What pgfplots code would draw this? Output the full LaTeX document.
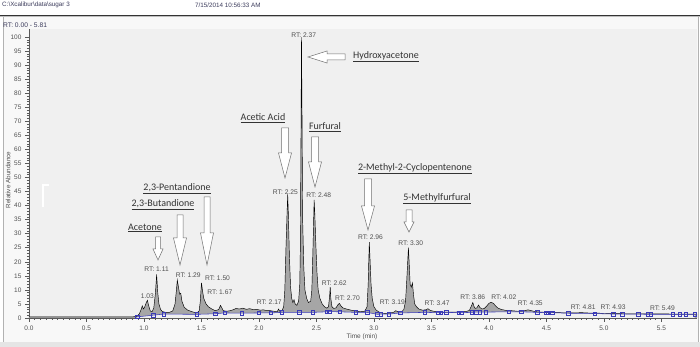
\documentclass[border=0pt]{standalone}
\usepackage{fontspec}
\setmainfont{Liberation Sans}
\newfontfamily\calib{Carlito}
\usepackage{pgfplots}
\pgfplotsset{compat=1.18}
\usetikzlibrary{calc}
\pgfdeclarelayer{bg}
\pgfsetlayers{bg,main}
\definecolor{plotbg}{HTML}{F0F0F0}
\definecolor{panelbg}{HTML}{F8F8F8}
\definecolor{peakfill}{HTML}{A6A6A6}
\definecolor{baseblue}{HTML}{3A3AB8}
\definecolor{txtgray}{HTML}{505050}
\definecolor{hdr}{HTML}{3C3C5C}
\definecolor{arrowc}{HTML}{707070}
\definecolor{cmpd}{HTML}{333333}
\tikzset{rt/.style={font=\fontsize{6.7}{7}\selectfont, text=txtgray, inner sep=0}}

\newcommand\varrow[6]{%
 \draw[arrowc, fill=white, line width=0.5pt, line join=miter]
 ({#1-#5},{347-#2}) -- ({#1+#5},{347-#2}) -- ({#1+#5},{347-#3}) -- ({#1+#6},{347-#3})
 -- (#1,{347-#4}) -- ({#1-#6},{347-#3}) -- ({#1-#5},{347-#3}) -- cycle;}

\pgfplotstableread{
t v
0.00 0.4
0.50 0.4
0.90 0.4
0.94 0.6
0.96 1.5
0.975 3
0.985 4.3
0.995 3.2
1.005 3.8
1.02 5.5
1.03 6.3
1.04 4.5
1.055 2.5
1.07 2.2
1.085 3.5
1.10 9
1.11 15.5
1.12 9
1.13 5
1.145 3
1.16 2.3
1.19 2
1.22 2
1.25 2.5
1.27 5
1.28 9
1.29 13.5
1.30 11
1.31 8.5
1.32 8.8
1.33 6
1.35 3.8
1.38 2.8
1.42 2.2
1.46 1.8
1.48 2.5
1.49 6
1.50 12.5
1.51 9.5
1.52 7
1.54 5
1.56 4
1.59 3.2
1.62 2.6
1.65 3
1.665 4.5
1.675 3.8
1.69 2.6
1.72 2.4
1.75 2.6
1.78 3
1.80 3.4
1.83 3.2
1.86 3.5
1.89 3.1
1.92 3.3
1.95 3.0
1.98 3.1
2.01 2.8
2.04 2.9
2.07 2.6
2.10 2.6
2.13 2.4
2.16 2.3
2.17 3.2
2.18 2.4
2.20 2.6
2.215 4
2.225 10
2.235 25
2.245 38
2.25 44
2.255 38
2.265 22
2.275 11
2.285 7
2.295 5.5
2.305 6.5
2.315 5
2.33 4.5
2.345 6
2.355 12
2.36 25
2.365 60
2.37 100
2.375 70
2.38 35
2.39 18
2.40 10
2.415 7
2.43 5.5
2.45 6
2.46 10
2.47 25
2.48 42
2.485 38
2.495 26
2.505 16
2.515 10
2.53 7
2.55 5
2.57 4
2.59 3.5
2.605 4
2.615 8
2.62 11
2.625 7
2.635 4
2.65 3.4
2.67 3.6
2.685 4.6
2.70 5.2
2.715 4.2
2.73 3.6
2.76 3.2
2.80 2.8
2.84 2.5
2.88 2.3
2.92 2.4
2.94 4
2.95 12
2.955 20
2.96 27
2.965 22
2.975 12
2.985 7
3.00 4
3.02 2.8
3.05 2
3.08 1.7
3.11 1.6
3.14 1.8
3.17 2
3.19 2.6
3.21 2.2
3.24 2.2
3.26 3
3.275 6
3.285 13
3.295 21
3.30 25
3.305 21
3.315 12
3.325 11
3.335 12.5
3.345 8
3.355 5
3.37 4
3.39 3.2
3.42 2.8
3.45 2.9
3.47 3.3
3.49 2.7
3.52 2.4
3.56 2.2
3.60 2.1
3.65 2.1
3.70 2.1
3.75 2.2
3.80 2.3
3.83 2.7
3.85 4.5
3.86 5.5
3.87 4.2
3.88 3.4
3.895 3.6
3.91 4.6
3.92 3.8
3.94 3.2
3.96 3.4
3.98 4.2
4.00 5.2
4.02 5.6
4.04 5.2
4.06 4.2
4.08 3.5
4.11 3
4.15 2.7
4.20 2.6
4.25 2.4
4.30 2.5
4.34 2.9
4.36 2.7
4.40 2.3
4.45 2.1
4.50 2.0
4.60 1.9
4.70 1.8
4.81 1.9
4.90 1.7
4.93 1.8
5.00 1.6
5.20 1.5
5.49 1.5
5.60 1.4
5.81 1.4
}\trace

\pgfplotstableread{
t v
0.94 0.4
1.08 1.0
1.17 1.4
1.46 1.3
1.62 1.5
1.70 1.8
1.85 1.7
2.00 1.8
2.10 1.8
2.20 2.0
2.35 2.0
2.47 2.0
2.59 2.2
2.61 2.3
2.70 2.2
2.84 2.0
2.94 2.0
3.03 1.3
3.06 1.4
3.13 1.4
3.23 1.8
3.44 2.0
3.56 1.9
3.58 1.9
3.63 2.0
3.74 1.9
3.76 1.9
3.85 2.0
3.89 2.1
3.92 2.1
3.97 2.1
4.17 2.2
4.28 2.2
4.42 2.0
4.50 1.9
4.51 1.9
4.55 1.9
4.69 1.7
4.92 1.6
5.08 1.4
5.16 1.4
5.30 1.4
5.38 1.3
5.41 1.3
5.60 1.3
5.66 1.3
5.71 1.3
5.79 1.3
}\base

\begin{document}
\begin{tikzpicture}[x=1pt,y=1pt]
\begin{axis}[scale only axis,
  width=668pt, height=289pt,
  xmin=0, xmax=5.81, ymin=0, ymax=102.85,
  axis background/.style={fill=plotbg},
  axis x line*=bottom, axis y line*=left,
  axis line style={-, draw=gray!70!black, line width=0.6pt},
  xtick={0,0.5,1,1.5,2,2.5,3,3.5,4,4.5,5,5.5},
  ytick={0,5,...,100},
  minor x tick num=9, minor y tick num=4,
  tick align=outside, major tick length=4pt, minor tick length=2pt,
  tick style={gray!70!black, line width=0.5pt},
  xticklabel style={/pgf/number format/fixed, /pgf/number format/fixed zerofill, /pgf/number format/precision=1},
  /pgf/number format/assume math mode=true,
  ticklabel style={font=\fontsize{6.5}{7}\selectfont, text=txtgray},
  clip=false]
\addplot[draw=none, fill=peakfill] table[x=t,y=v]{\trace} \closedcycle;
\addplot[draw=none, fill=plotbg] table[x=t,y=v]{\base} \closedcycle;
\addplot[black, line width=0.45pt] table[x=t,y=v]{\trace};
\addplot[baseblue, line width=0.55pt, mark=square, mark size=1.7pt, mark options={fill=plotbg, line width=0.45pt}] table[x=t,y=v]{\base};

\node[rt] at (axis cs:1.03,7.8) {1.03};
\node[rt] at (axis cs:1.11,17.4) {RT: 1.11};
\node[rt] at (axis cs:1.385,15.3) {RT: 1.29};
\node[rt] at (axis cs:1.64,14.2) {RT: 1.50};
\node[rt] at (axis cs:1.66,9.3) {RT: 1.67};
\node[rt] at (axis cs:2.09,5.7) {RT: 2.17};
\node[rt] at (axis cs:2.23,44.8) {RT: 2.25};
\node[rt] at (axis cs:2.39,100.8) {RT: 2.37};
\node[rt] at (axis cs:2.52,43.8) {RT: 2.48};
\node[rt] at (axis cs:2.655,12.5) {RT: 2.62};
\node[rt] at (axis cs:2.77,7.1) {RT: 2.70};
\node[rt] at (axis cs:2.97,28.8) {RT: 2.96};
\node[rt] at (axis cs:3.16,5.7) {RT: 3.19};
\node[rt] at (axis cs:3.32,26.7) {RT: 3.30};
\node[rt] at (axis cs:3.55,5.3) {RT: 3.47};
\node[rt] at (axis cs:3.86,7.5) {RT: 3.86};
\node[rt] at (axis cs:4.13,7.5) {RT: 4.02};
\node[rt] at (axis cs:4.36,5.3) {RT: 4.35};
\node[rt] at (axis cs:4.82,3.9) {RT: 4.81};
\node[rt] at (axis cs:5.08,3.9) {RT: 4.93};
\node[rt] at (axis cs:5.51,3.6) {RT: 5.49};
\coordinate (ax0) at (rel axis cs:0,0);
\end{axis}

\begin{scope}[shift={($(ax0)-(29pt,29pt)$)}]
\begin{pgfonlayer}{bg}
\fill[white] (0,0) rectangle (700,347);
\fill[panelbg] (3,5) rectangle (698,331);
\fill[gray!20] (0,0) rectangle (700,5);
\draw[gray!60, line width=0.6pt] (3,5) -- (3,331);
\draw[gray!60, line width=0.6pt] (698,5) -- (698,331);
\draw[gray!40!black, line width=0.8pt] (0,331.5) -- (700,331.5);
\draw[gray!50, line width=0.5pt] (0,330.3) -- (700,330.3);
\end{pgfonlayer}
\draw[white, line width=1.2pt] (43,140) -- (43,162) -- (49,162);
\node[anchor=west, inner sep=0, text=hdr, font=\fontsize{6.3}{7}\selectfont] at (2,342) {C:\textbackslash Xcalibur\textbackslash data\textbackslash sugar 3};
\node[anchor=west, inner sep=0, text=hdr, font=\fontsize{6.3}{7}\selectfont] at (195,342) {7/15/2014 10:56:33 AM};
\node[anchor=west, inner sep=0, text=hdr, font=\fontsize{6.7}{7}\selectfont] at (3,322) {RT: 0.00 - 5.81};

\node[rotate=90, inner sep=0, text=txtgray, font=\fontsize{6.3}{7}\selectfont] at (8,167) {Relative Abundance};
\node[inner sep=0, text=txtgray, font=\fontsize{6.5}{7}\selectfont] at (362,10) {Time (min)};

\varrow{158}{237}{249}{260}{2.5}{5}
\varrow{180}{215}{238}{265}{3}{6.5}
\varrow{207}{197}{233}{265}{3}{6.5}
\varrow{285}{128}{153}{178}{3.5}{6.5}
\varrow{315}{137}{162}{187}{3.5}{6.5}
\varrow{368}{179}{206}{230}{3.5}{6.5}
\varrow{409}{210}{222}{232}{3}{5}
\draw[arrowc, fill=white, line width=0.5pt] (345,293) -- (327,293) -- (327,296) -- (308,290) -- (327,284) -- (327,287) -- (345,287) -- cycle;

\begin{scope}[every node/.style={inner sep=0, text=cmpd, font=\calib\fontsize{10}{11}\selectfont}]
\node at (145,119) {\underline{Acetone}};
\node at (163,142) {\underline{2,3-Butandione}};
\node at (177,158) {\underline{2,3-Pentandione}};
\node at (263,229) {\underline{Acetic Acid}};
\node at (386,290) {\underline{Hydroxyacetone}};
\node at (325,220) {\underline{Furfural}};
\node at (415,178) {\underline{2-Methyl-2-Cyclopentenone}};
\node at (437,148) {\underline{5-Methylfurfural}};
\end{scope}
\pgfresetboundingbox
\useasboundingbox (0,0) rectangle (700,347);
\end{scope}
\end{tikzpicture}
\end{document}
